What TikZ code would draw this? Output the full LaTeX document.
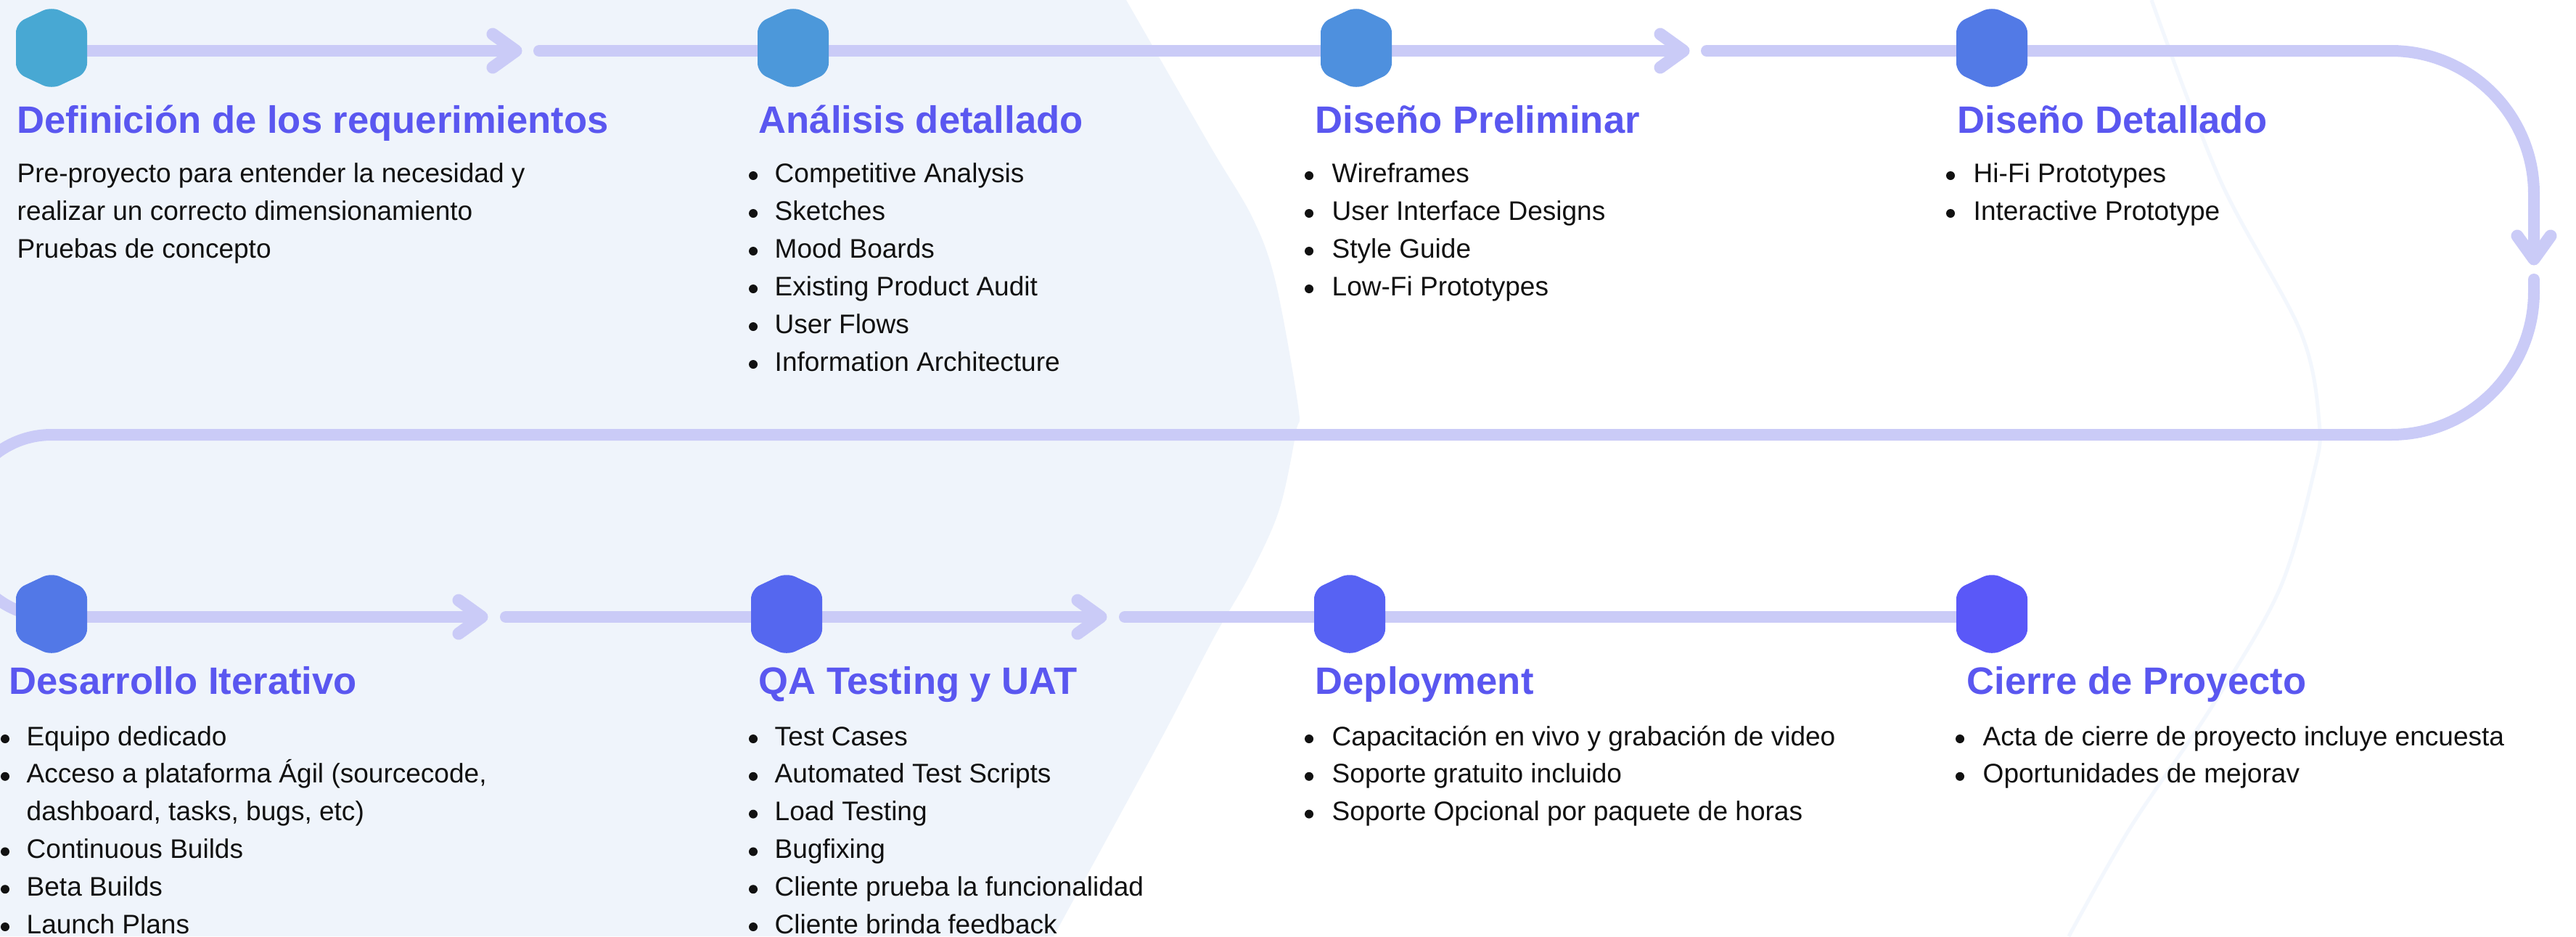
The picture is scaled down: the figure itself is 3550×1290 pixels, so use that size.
\documentclass[tikz,border=0pt]{standalone}
\usepackage{fontspec}
\setmainfont{Liberation Sans}
\usetikzlibrary{calc}
\definecolor{bgblob}{HTML}{EFF4FB}
\definecolor{conn}{HTML}{CACBF7}
\definecolor{ttl}{HTML}{5A57F0}
\definecolor{txt}{HTML}{111111}
\definecolor{faint}{HTML}{F3F7FD}
\definecolor{hA}{HTML}{48A8D3}
\definecolor{hB}{HTML}{4C98DA}
\definecolor{hC}{HTML}{4E90DE}
\definecolor{hD}{HTML}{527AE6}
\definecolor{hE}{HTML}{5278E7}
\definecolor{hF}{HTML}{5567EF}
\definecolor{hG}{HTML}{5762F3}
\definecolor{hH}{HTML}{5A58F8}
\newcommand\drawhexat[2]{%
  \fill[#2,rounded corners=0.13cm] ($(#1)+(-49,-4)$) -- ++(0,-34) -- ++(49,-23) -- ++(49,23) -- ++(0,68) -- ++(-49,23) -- ++(-49,-23) -- cycle;}
\begin{document}
\begin{tikzpicture}[x=0.01cm,y=-0.01cm,
  connline/.style={draw=conn,line width=0.16cm},
  chev/.style={draw=conn,line width=0.17cm,line cap=round,line join=round},
  title/.style={anchor=base west,inner sep=0,text=ttl,font=\fontsize{14.95}{18}\selectfont\bfseries},
  body/.style={anchor=base west,inner sep=0,text=txt,font=\fontsize{10.53}{13}\selectfont}]
\useasboundingbox (0,0) rectangle (3550,1290);
\fill[white] (0,0) rectangle (3550,1290);
% background blob
\fill[bgblob] (0,0) -- plot[smooth,tension=0.55] coordinates {(1552,0) (1667,200) (1726,300) (1758,389) (1789,560) (1786,595) (1763,702) (1723,791) (1672,880) (1598,1022) (1452,1290)} -- (0,1290) -- cycle;
\draw[faint,line width=0.05cm] plot[smooth,tension=0.55] coordinates {(2965,0) (3060,249) (3170,456) (3196,581) (3189,650) (3141,813) (3046,977) (2936,1140) (2851,1290)};
% anchor points
\coordinate (h1) at (71,70);
\coordinate (h2) at (1093,70);
\coordinate (h3) at (1869,70);
\coordinate (h4) at (2745,70);
\coordinate (h5) at (71,850);
\coordinate (h6) at (1084,850);
\coordinate (h7) at (1860,850);
\coordinate (h8) at (2745,850);
\coordinate (t1) at (711,70);   \coordinate (r1) at (743,70);
\coordinate (t2) at (2320,70);  \coordinate (r2) at (2352,70);
\coordinate (t3) at (3492,357); \coordinate (r3) at (3492,385);
\coordinate (t4) at (664,850);  \coordinate (r4) at (697,850);
\coordinate (t5) at (1517,850); \coordinate (r5) at (1550,850);
% connectors
\draw[connline] (h1) -- (t1);
\draw[chev] ($(t1)+(-32,-23)$) -- (t1) -- ($(t1)+(-32,23)$);
\draw[connline,line cap=round] (r1) -- (h2);
\draw[connline] (h2) -- (h3);
\draw[connline] (h3) -- (t2);
\draw[chev] ($(t2)+(-32,-23)$) -- (t2) -- ($(t2)+(-32,23)$);
\draw[connline,line cap=round] (r2) -- (h4);
\draw[connline] (h4) -- (3295,70) arc[start angle=-90,end angle=0,radius=197] -- (t3);
\draw[chev] ($(t3)+(-23,-32)$) -- (t3) -- ($(t3)+(23,-32)$);
\draw[connline,line cap=round] (r3) -- (3492,402);
\draw[connline] (3492,400) -- (3492,402) arc[start angle=0,end angle=90,radius=197] -- (71,599) arc[start angle=-90,end angle=-270,radius=125.5] -- (h5);
\draw[connline] (h5) -- (t4);
\draw[chev] ($(t4)+(-32,-23)$) -- (t4) -- ($(t4)+(-32,23)$);
\draw[connline,line cap=round] (r4) -- (h6);
\draw[connline] (h6) -- (t5);
\draw[chev] ($(t5)+(-32,-23)$) -- (t5) -- ($(t5)+(-32,23)$);
\draw[connline,line cap=round] (r5) -- (h7);
\draw[connline] (h7) -- (h8);
% hexagons
\drawhexat{h1}{hA}
\drawhexat{h2}{hB}
\drawhexat{h3}{hC}
\drawhexat{h4}{hD}
\drawhexat{h5}{hE}
\drawhexat{h6}{hF}
\drawhexat{h7}{hG}
\drawhexat{h8}{hH}
% titles
\node[title] (T1) at (23,183) {Definición de los requerimientos};
\node[title] (T2) at (1045,183) {Análisis detallado};
\node[title] (T3) at (1812,183) {Diseño Preliminar};
\node[title] (T4) at (2697,183) {Diseño Detallado};
\node[title] (T5) at (12,956) {Desarrollo Iterativo};
\node[title] (T6) at (1045,956) {QA Testing y UAT};
\node[title] (T7) at (1812,956) {Deployment};
\node[title] (T8) at (2710,956) {Cierre de Proyecto};
% column 1 top (no bullets)
\node[body] (p1a) at (23,251) {Pre-proyecto para entender la necesidad y};
\node[body] (p1b) at (23,303) {realizar un correcto dimensionamiento};
\node[body] (p1c) at (23,355) {Pruebas de concepto};
% column 2 top
\foreach \t [count=\i from 0] in {Competitive Analysis, Sketches, Mood Boards, Existing Product Audit, User Flows, Information Architecture}{
  \fill[txt] (1038,242+52*\i) circle[radius=6];
  \node[body] (p2\i) at (1067,251+52*\i) {\t};}
% column 3 top
\foreach \t [count=\i from 0] in {Wireframes, User Interface Designs, Style Guide, Low-Fi Prototypes}{
  \fill[txt] (1804,242+52*\i) circle[radius=6];
  \node[body] (p3\i) at (1835,251+52*\i) {\t};}
% column 4 top
\foreach \t [count=\i from 0] in {Hi-Fi Prototypes, Interactive Prototype}{
  \fill[txt] (2688,242+52*\i) circle[radius=6];
  \node[body] (p4\i) at (2719,251+52*\i) {\t};}
% column 1 bottom
\foreach \k in {0,1,3,4,5}{\fill[txt] (7,1018+51.8*\k) circle[radius=6];}
\node[body] (q1a) at (36,1027) {Equipo dedicado};
\node[body] (q1b) at (36,1078.8) {Acceso a plataforma Ágil (sourcecode,};
\node[body] (q1c) at (36,1130.6) {dashboard, tasks, bugs, etc)};
\node[body] (q1d) at (36,1182.4) {Continuous Builds};
\node[body] (q1e) at (36,1234.2) {Beta Builds};
\node[body] (q1f) at (36,1286) {Launch Plans};
% column 2 bottom
\foreach \t [count=\i from 0] in {Test Cases, Automated Test Scripts, Load Testing, Bugfixing, Cliente prueba la funcionalidad, Cliente brinda feedback}{
  \fill[txt] (1038,1018+51.8*\i) circle[radius=6];
  \node[body] (q2\i) at (1067,1027+51.8*\i) {\t};}
% column 3 bottom
\foreach \t [count=\i from 0] in {Capacitación en vivo y grabación de video, Soporte gratuito incluido, Soporte Opcional por paquete de horas}{
  \fill[txt] (1804,1018+51.8*\i) circle[radius=6];
  \node[body] (q3\i) at (1835,1027+51.8*\i) {\t};}
% column 4 bottom
\foreach \t [count=\i from 0] in {Acta de cierre de proyecto incluye encuesta, Oportunidades de mejorav}{
  \fill[txt] (2701,1018+51.8*\i) circle[radius=6];
  \node[body] (q4\i) at (2732,1027+51.8*\i) {\t};}
\end{tikzpicture}
\end{document}
